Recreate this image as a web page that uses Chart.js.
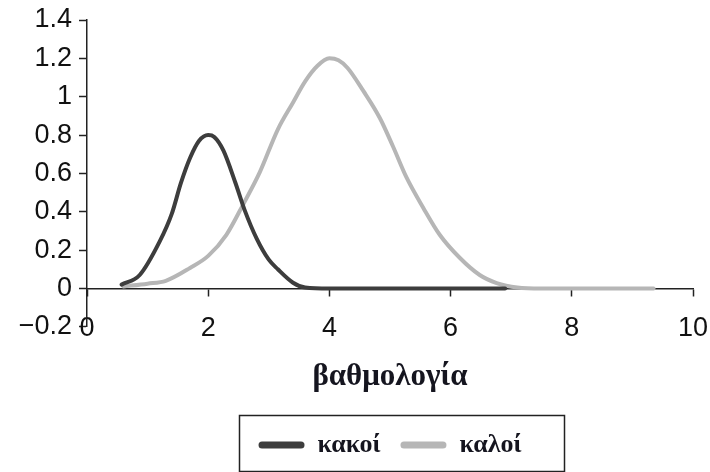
<!DOCTYPE html>
<html>
<head>
<meta charset="utf-8">
<script src="https://cdn.jsdelivr.net/npm/chart.js@4.4.0/dist/chart.umd.min.js"></script>
<style>
  html, body { margin: 0; padding: 0; background: #ffffff; }
  canvas { display: block; }
</style>
</head>
<body>
<canvas id="chart" width="710" height="472"></canvas>
<script>
// Score (βαθμολογία) positions and curve heights for each group
const kakoiX = [0.57, 0.87, 1.2, 1.4, 1.55, 1.7, 1.85, 2.0, 2.1, 2.25, 2.45, 2.6, 2.8, 3.0, 3.15, 3.4, 3.6, 4.0, 5.0, 6.0, 6.9];
const kakoiY = [0.02, 0.07, 0.245, 0.39, 0.55, 0.68, 0.77, 0.80, 0.79, 0.72, 0.55, 0.41, 0.26, 0.15, 0.10, 0.03, 0.005, 0, 0, 0, 0];

const kaloiX = [0.6, 1.0, 1.3, 1.7, 2.0, 2.3, 2.58, 2.85, 3.15, 3.4, 3.6, 3.8, 4.0, 4.15, 4.3, 4.56, 4.83, 5.05, 5.27, 5.55, 5.82, 6.15, 6.48, 6.76, 7.1, 7.5, 8.5, 9.35];
const kaloiY = [0.01, 0.025, 0.04, 0.107, 0.17, 0.28, 0.44, 0.605, 0.83, 0.97, 1.08, 1.16, 1.20, 1.19, 1.15, 1.03, 0.89, 0.74, 0.58, 0.42, 0.28, 0.16, 0.07, 0.028, 0.005, 0, 0, 0];

const seriesNames = ['κακοί', 'καλοί'];
const axisTitle = 'βαθμολογία';

// Axis ranges and tick steps
const xRange = [0, 10];
const xStep = 2;
const yRange = [-0.2, 1.4];
const yStep = 0.2;

const toPoints = (xs, ys) => xs.map((x, i) => ({ x: x, y: ys[i] }));

const DARK = '#3d3d3d';
const LIGHT = '#b6b6b6';
const AXIS = '#222222';

// Frame drawn around the legend entries
const legendFrame = {
  id: 'legendFrame',
  afterDraw(chart) {
    const boxes = chart.legend && chart.legend.legendHitBoxes;
    if (!boxes || !boxes.length) return;
    const left = Math.min(...boxes.map(b => b.left));
    const right = Math.max(...boxes.map(b => b.left + b.width));
    const cy = boxes[0].top + boxes[0].height / 2;
    const ctx = chart.ctx;
    ctx.save();
    ctx.strokeStyle = AXIS;
    ctx.lineWidth = 1.5;
    ctx.strokeRect(Math.round(left - 20) + 0.5, Math.round(cy - 30) + 0.5,
                   Math.round(right - left + 62), 56);
    ctx.restore();
  }
};

new Chart(document.getElementById('chart'), {
  type: 'line',
  data: {
    datasets: [
      {
        label: seriesNames[0],
        data: toPoints(kakoiX, kakoiY),
        borderColor: DARK,
        backgroundColor: DARK,
        borderWidth: 4,
        pointRadius: 0,
        cubicInterpolationMode: 'monotone',
        borderCapStyle: 'round',
        borderJoinStyle: 'round'
      },
      {
        label: seriesNames[1],
        data: toPoints(kaloiX, kaloiY),
        borderColor: LIGHT,
        backgroundColor: LIGHT,
        borderWidth: 4,
        pointRadius: 0,
        cubicInterpolationMode: 'monotone',
        borderCapStyle: 'round',
        borderJoinStyle: 'round'
      }
    ]
  },
  options: {
    responsive: false,
    animation: false,
    devicePixelRatio: 1,
    layout: { padding: { top: 0, left: 0, right: 0, bottom: 4 } },
    scales: {
      x: {
        type: 'linear',
        min: xRange[0],
        max: xRange[1],
        position: { y: 0 },
        border: { display: true, color: AXIS, width: 1.5 },
        grid: { drawOnChartArea: false, drawTicks: true, tickLength: 7, tickColor: AXIS, tickWidth: 1.5 },
        afterFit(scale) { scale.paddingLeft = 0; scale.paddingRight = 17; },
        ticks: {
          stepSize: xStep,
          color: '#111',
          padding: 17,
          maxRotation: 0,
          font: { family: 'Liberation Sans, Arial, sans-serif', size: 27 }
        }
      },
      y: {
        type: 'linear',
        min: yRange[0],
        max: yRange[1],
        border: { display: true, color: AXIS, width: 1.5 },
        grid: { drawOnChartArea: false, drawTicks: true, tickLength: 8, tickColor: AXIS, tickWidth: 1.5 },
        afterFit(scale) { scale.width = 87; scale.paddingTop = 20; scale.paddingBottom = 0; },
        ticks: {
          stepSize: yStep,
          color: '#111',
          padding: 7,
          font: { family: 'Liberation Sans, Arial, sans-serif', size: 27 },
          callback(v) {
            const r = Math.round(v * 10) / 10;
            return r < 0 ? '\u2212' + String(Math.abs(r)) : String(r);
          }
        }
      }
    },
    plugins: {
      title: {
        display: true,
        position: 'bottom',
        weight: 500,
        fullSize: false,
        text: axisTitle,
        color: '#15151f',
        font: { family: 'Liberation Serif, Times New Roman, serif', size: 31, weight: 'bold' },
        padding: { top: 32, bottom: 16 }
      },
      legend: {
        display: true,
        position: 'bottom',
        fullSize: false,
        labels: {
          boxWidth: 46,
          boxHeight: 7,
          useBorderRadius: true,
          borderRadius: 3.5,
          padding: 20,
          color: '#15151f',
          font: { family: 'Liberation Serif, Times New Roman, serif', size: 26, weight: 'bold' },
          generateLabels(chart) {
            return Chart.defaults.plugins.legend.labels.generateLabels(chart).map(l => {
              l.lineWidth = 0;
              return l;
            });
          }
        }
      },
      tooltip: { enabled: false }
    }
  },
  plugins: [legendFrame]
});
</script>
</body>
</html>
